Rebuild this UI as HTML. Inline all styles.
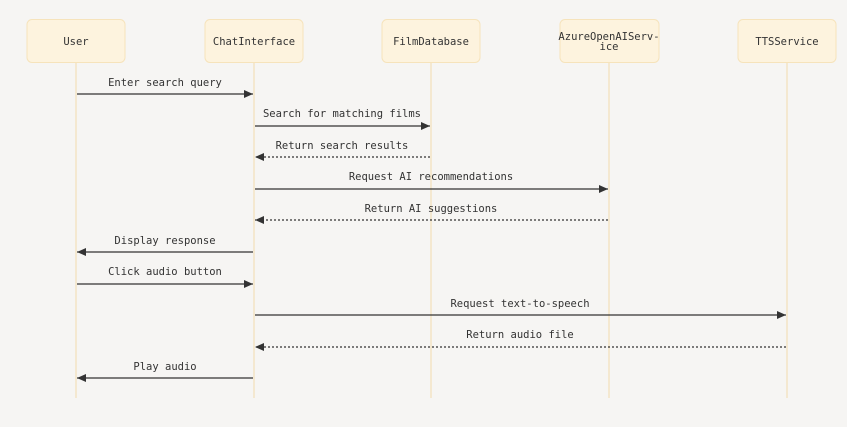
<!DOCTYPE html>
<html><head><meta charset="utf-8"><style>
html,body{margin:0;padding:0;background:#f6f5f3;}
svg{display:block;}
text{font-family:"DejaVu Sans Mono","Liberation Mono",monospace;font-size:10.5px;fill:#333;}
</style></head><body>
<svg width="847" height="427" viewBox="0 0 847 427" xmlns="http://www.w3.org/2000/svg">
<defs>
<marker id="a" markerWidth="10" markerHeight="8" refX="9" refY="4" orient="auto" markerUnits="userSpaceOnUse">
<path d="M0,0 L9,4 L0,8 z" fill="#333"/></marker>
</defs>
<g stroke="#f2dfb8" stroke-width="1.2">
<line x1="76" y1="62" x2="76" y2="398"/>
<line x1="254" y1="62" x2="254" y2="398"/>
<line x1="431" y1="62" x2="431" y2="398"/>
<line x1="609" y1="62" x2="609" y2="398"/>
<line x1="787" y1="62" x2="787" y2="398"/>
</g>
<g fill="#fdf3de" stroke="#f6e3bb" stroke-width="1">
<rect x="27" y="19.5" width="98" height="43" rx="5"/>
<rect x="205" y="19.5" width="98" height="43" rx="5"/>
<rect x="382" y="19.5" width="98" height="43" rx="5"/>
<rect x="560" y="19.5" width="99" height="43" rx="5"/>
<rect x="738" y="19.5" width="98" height="43" rx="5"/>
</g>
<g text-anchor="middle">
<text x="76" y="45">User</text>
<text x="254" y="45">ChatInterface</text>
<text x="431" y="45">FilmDatabase</text>
<text x="609" y="40">AzureOpenAIServ-</text>
<text x="609" y="50">ice</text>
<text x="787" y="45">TTSService</text>
</g>
<g stroke="#333" stroke-width="1.2" fill="none">
<line x1="77" y1="94" x2="253" y2="94" marker-end="url(#a)"/>
<line x1="255" y1="126" x2="430" y2="126" marker-end="url(#a)"/>
<line x1="430" y1="157" x2="255" y2="157" stroke-dasharray="2,2" marker-end="url(#a)"/>
<line x1="255" y1="189" x2="608" y2="189" marker-end="url(#a)"/>
<line x1="608" y1="220" x2="255" y2="220" stroke-dasharray="2,2" marker-end="url(#a)"/>
<line x1="253" y1="252" x2="77" y2="252" marker-end="url(#a)"/>
<line x1="77" y1="284" x2="253" y2="284" marker-end="url(#a)"/>
<line x1="255" y1="315" x2="786" y2="315" marker-end="url(#a)"/>
<line x1="786" y1="347" x2="255" y2="347" stroke-dasharray="2,2" marker-end="url(#a)"/>
<line x1="253" y1="378" x2="77" y2="378" marker-end="url(#a)"/>
</g>
<g text-anchor="middle">
<text x="165" y="86">Enter search query</text>
<text x="342" y="117">Search for matching films</text>
<text x="342" y="149">Return search results</text>
<text x="431" y="180">Request AI recommendations</text>
<text x="431" y="212">Return AI suggestions</text>
<text x="165" y="244">Display response</text>
<text x="165" y="275">Click audio button</text>
<text x="520" y="307">Request text-to-speech</text>
<text x="520" y="338">Return audio file</text>
<text x="165" y="370">Play audio</text>
</g>
</svg>
</body></html>
